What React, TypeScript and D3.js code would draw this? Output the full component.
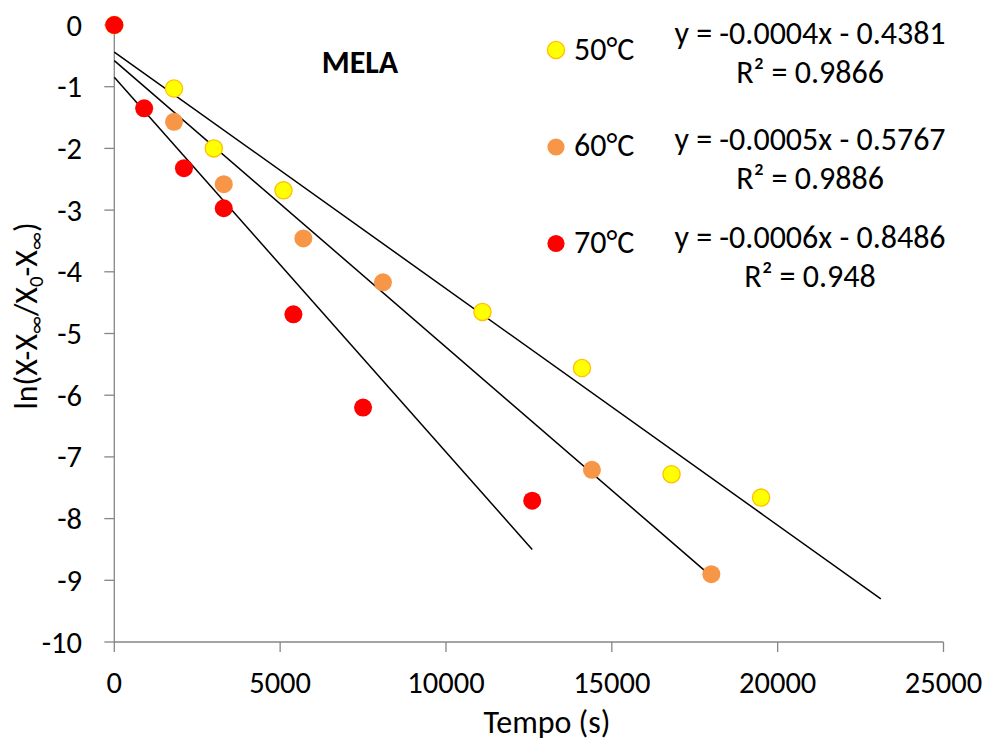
import React from "react";
import * as d3 from "d3";

const series50x = [0, 1800, 3000, 5100, 11100, 14100, 16800, 19500];
const series50y = [0, -1.03, -2.0, -2.68, -4.65, -5.56, -7.28, -7.66];
const series60x = [0, 1800, 3300, 5700, 8100, 14400, 18000];
const series60y = [0, -1.57, -2.58, -3.46, -4.17, -7.21, -8.90];
const series70x = [0, 900, 2100, 3300, 5400, 7500, 12600];
const series70y = [0, -1.35, -2.32, -2.97, -4.69, -6.20, -7.71];

const seriesNames = ["50°C", "60°C", "70°C"];
const equations = ["y = -0.0004x - 0.4381", "y = -0.0005x - 0.5767", "y = -0.0006x - 0.8486"];
const rSquared = ["R² = 0.9866", "R² = 0.9886", "R² = 0.948"];
// trendline endpoints [x0, y0, x1, y1]
const trend50 = [0, -0.4381, 23110, -9.30];
const trend60 = [0, -0.5767, 18010, -8.94];
const trend70 = [0, -0.8486, 12600, -8.50];

const xTicks = [0, 5000, 10000, 15000, 20000, 25000];
const yTicks = [0, -1, -2, -3, -4, -5, -6, -7, -8, -9, -10];

const FONT = "Carlito, Calibri, Lato, 'Open Sans', sans-serif";

export default function App() {
  const W = 991, H = 749;
  const x = d3.scaleLinear().domain([0, 25000]).range([114.3, 943.5]);
  const y = d3.scaleLinear().domain([0, -10]).range([25, 642]);

  const fills = ["#FFFF00", "#F79646", "#FF0000"];
  const strokes = ["#FFC000", "none", "none"];
  const xs = [series50x, series60x, series70x];
  const ys = [series50y, series60y, series70y];
  const trends = [trend50, trend60, trend70];
  const line = d3.line<number[]>().x((d) => x(d[0])).y((d) => y(d[1]));

  const legendY = [50, 147, 243.5];
  const labelBase = [59.5, 156, 252.5];
  const eqBase = [43.5, 150, 248];
  const r2Base = [83, 188.5, 286.5];

  return (
    <svg width={W} height={H} style={{ position: "absolute", left: 0, top: 0, background: "#fff" }} fontFamily={FONT}>
      <rect x={0} y={0} width={W} height={H} fill="#fff" />
      {/* axes */}
      <line x1={x(0)} x2={x(0)} y1={y(0)} y2={y(-10)} stroke="#868686" strokeWidth={1.3} />
      <line x1={x(0)} x2={x(25000)} y1={y(-10)} y2={y(-10)} stroke="#868686" strokeWidth={1.3} />
      {yTicks.map((t) => (
        <g key={"yt" + t}>
          <line x1={x(0) - 10} x2={x(0)} y1={y(t)} y2={y(t)} stroke="#868686" strokeWidth={1.3} />
          <text x={82} y={y(t) + 10.5} textAnchor="end" fontSize={30.5} fill="#000">{t}</text>
        </g>
      ))}
      {xTicks.map((t) => (
        <g key={"xt" + t}>
          <line x1={x(t)} x2={x(t)} y1={y(-10)} y2={y(-10) + 10} stroke="#868686" strokeWidth={1.3} />
          <text x={x(t)} y={693} textAnchor="middle" fontSize={30.5} fill="#000">{t}</text>
        </g>
      ))}
      {/* trendlines */}
      {trends.map((t, i) => (
        <path key={"tr" + i} d={line([[t[0], t[1]], [t[2], t[3]]]) || ""} stroke="#000" strokeWidth={1.5} fill="none" />
      ))}
      {/* points */}
      {xs.map((sx, i) => (
        <g key={"s" + i}>
          {sx.map((v, j) => (
            <circle key={j} cx={x(v)} cy={y(ys[i][j])} r={strokes[i] === "none" ? 9 : 8.6} fill={fills[i]} stroke={strokes[i]} strokeWidth={1.3} />
          ))}
        </g>
      ))}
      {/* title */}
      <text x={360} y={73} textAnchor="middle" fontSize={32} fontWeight="bold" fill="#000">MELA</text>
      {/* legend */}
      {seriesNames.map((n, i) => (
        <g key={"lg" + i}>
          <circle cx={556} cy={legendY[i]} r={8.6} fill={fills[i]} stroke={strokes[i]} strokeWidth={1.3} />
          <text x={574} y={labelBase[i]} fontSize={32} fill="#000">{n}</text>
          <text x={810} y={eqBase[i]} textAnchor="middle" fontSize={32} fill="#000">{equations[i]}</text>
          <text x={810} y={r2Base[i]} textAnchor="middle" fontSize={32} fill="#000">{rSquared[i]}</text>
        </g>
      ))}
      {/* axis titles */}
      <text x={547} y={733} textAnchor="middle" fontSize={32} fill="#000">Tempo (s)</text>
      <text transform="translate(37,316) rotate(-90)" textAnchor="middle" fontSize={32} fill="#000">
        ln(X-X<tspan fontSize={21} dy={6}>∞</tspan><tspan dy={-6}>/X</tspan><tspan fontSize={21} dy={6}>0</tspan><tspan dy={-6}>-X</tspan><tspan fontSize={21} dy={6}>∞</tspan><tspan dy={-6}>)</tspan>
      </text>
    </svg>
  );
}
